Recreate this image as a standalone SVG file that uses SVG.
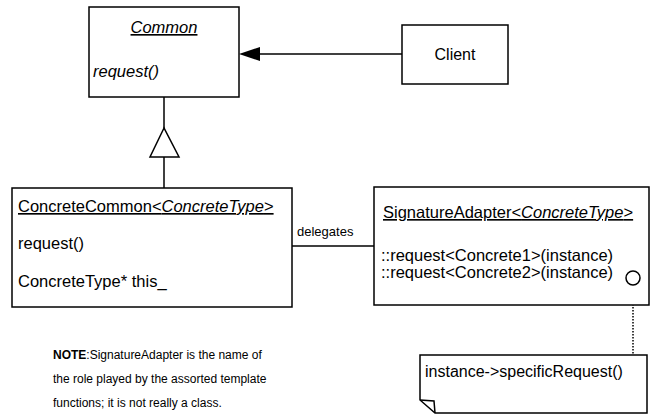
<svg xmlns="http://www.w3.org/2000/svg" width="652" height="415" viewBox="0 0 652 415">
<style>
.box{fill:#fff;stroke:#000;stroke-width:1.5}
.t{font-family:"Liberation Sans",Arial,sans-serif;font-size:16px;fill:#000}
.b{font-size:16.5px}
.s{font-size:13px}
.n{font-size:12px}
.i{font-style:italic}
.u{text-decoration:underline}
.ln{stroke:#000;stroke-width:1.5;fill:none}
</style>
<rect width="652" height="415" fill="#fff"/>
<g id="connectors">
<line class="ln" x1="402" y1="54" x2="245" y2="54"/>
<polygon points="239,54 260,47 260,61" fill="#000"/>
<line class="ln" x1="164" y1="97" x2="164" y2="128"/>
<polygon points="164,128 150,157 179,157" fill="#fff" stroke="#000" stroke-width="1.5"/>
<line class="ln" x1="164" y1="157" x2="164" y2="188"/>
<line class="ln" x1="292" y1="246" x2="374" y2="246"/>
<text class="t s" x="297" y="236">delegates</text>
<line x1="633" y1="286" x2="633" y2="355" stroke="#000" stroke-width="1.5" stroke-dasharray="1.5,1.5"/>
</g>
<g id="common">
<rect class="box" x="89" y="7" width="150" height="90"/>
<text class="t b i u" x="164" y="33" text-anchor="middle">Common</text>
<text class="t b i" x="93" y="77">request()</text>
</g>
<g id="client">
<rect class="box" x="402" y="25" width="106" height="59" stroke-width="1"/>
<text class="t" x="455" y="60" text-anchor="middle">Client</text>
</g>
<g id="concretecommon">
<rect class="box" x="12" y="188" width="280" height="119"/>
<text class="t b u" x="18" y="212">ConcreteCommon&lt;<tspan class="i">ConcreteType</tspan>&gt;</text>
<text class="t b" x="18" y="249">request()</text>
<text class="t b" x="18" y="287">ConcreteType* this_</text>
</g>
<g id="signatureadapter">
<rect class="box" x="374" y="187" width="275" height="118"/>
<text class="t b u" x="383" y="218">SignatureAdapter&lt;<tspan class="i">ConcreteType</tspan>&gt;</text>
<text class="t b" x="381" y="261">::request&lt;Concrete1&gt;(instance)</text>
<text class="t b" x="381" y="278">::request&lt;Concrete2&gt;(instance)</text>
<circle cx="633" cy="278" r="7" fill="#fff" stroke="#000" stroke-width="1.5"/>
</g>
<g id="note">
<polygon class="box" points="420,355 647,355 647,413 435,413 420,400"/>
<polyline class="ln" points="420,400 434,401 435,413"/>
<text class="t" x="425" y="377">instance-&gt;specificRequest()</text>
</g>
<g id="notetext">
<text class="t n" x="53" y="359"><tspan font-weight="bold">NOTE</tspan>:SignatureAdapter is the name of</text>
<text class="t n" x="53" y="383">the role played by the assorted template</text>
<text class="t n" x="53" y="407">functions; it is not really a class.</text>
</g>
</svg>
